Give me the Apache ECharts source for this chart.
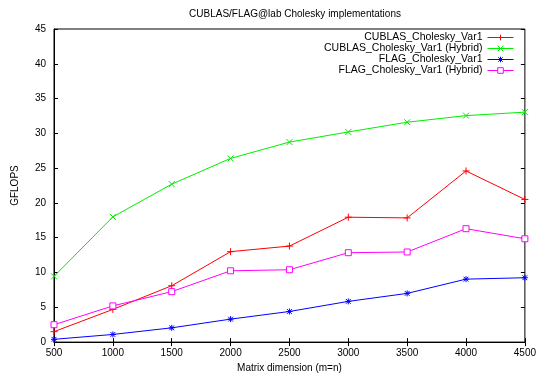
<!DOCTYPE html>
<html><head><meta charset="utf-8">
<script src="https://cdn.jsdelivr.net/npm/echarts@6/dist/echarts.min.js"></script>
<style>html,body{margin:0;padding:0;background:#fff}#c{width:539px;height:378px}</style>
</head><body><div id="c"></div>
<script>
var dims = [500, 1000, 1500, 2000, 2500, 3000, 3500, 4000, 4500];
var cublasVar1 = [1.5, 4.7, 8.1, 13.0, 13.8, 17.95, 17.85, 24.6, 20.5];
var cublasHybrid = [9.45, 18.0, 22.7, 26.4, 28.75, 30.2, 31.6, 32.55, 33.05];
var flagVar1 = [0.4, 1.1, 2.05, 3.3, 4.4, 5.85, 7.0, 9.05, 9.25];
var flagHybrid = [2.5, 5.2, 7.25, 10.25, 10.4, 12.85, 12.95, 16.3, 14.85];
var names = ['CUBLAS_Cholesky_Var1', 'CUBLAS_Cholesky_Var1 (Hybrid)', 'FLAG_Cholesky_Var1', 'FLAG_Cholesky_Var1 (Hybrid)'];
var colors = ['#ff0000', '#00ee00', '#0000ff', '#ff00ff'];

function pairs(v){ return dims.map(function(d,i){ return [d, v[i]]; }); }
var FONT = 'Liberation Sans, Arial, sans-serif';
var plusPath = 'path://M0,5L10,5M5,0L5,10';
var crossPath = 'path://M0,0L10,10M10,0L0,10';
var starPath = 'path://M0,5L10,5M5,0L5,10M1,1L9,9M9,1L1,9';
var symbols = [plusPath, crossPath, starPath, 'rect'];
var sizes = [7, 6, 6, 6];

function mk(i, data){
  var color = colors[i], symbol = symbols[i];
  return {
    name: names[i], type: 'line', data: pairs(data), xAxisIndex: 0, yAxisIndex: 0,
    symbol: symbol, symbolSize: sizes[i], showAllSymbol: true,
    lineStyle: {color: color, width: 1},
    itemStyle: {color: symbol === 'rect' ? '#fff' : 'none', borderColor: color, borderWidth: 1},
    emphasis: {disabled: true}, animation: false
  };
}

var chart = echarts.init(document.getElementById('c'), null, {renderer: 'canvas'});
var tickStyle = {inside: true, length: 4, lineStyle: {color: '#000', width: 1}};
chart.setOption({
  animation: false,
  backgroundColor: '#fff',
  title: {text: 'CUBLAS/FLAG@lab Cholesky implementations', left: 290, top: 4, textAlign: 'center',
    textStyle: {fontFamily: FONT, fontSize: 10, fontWeight: 'normal', color: '#000'}},
  grid: {left: 54, right: 12, top: 29, bottom: 35, show: true, borderColor: '#000', borderWidth: 1, backgroundColor: 'transparent'},
  legend: {
    orient: 'vertical', right: 25, top: 32, align: 'right', padding: 0,
    itemWidth: 26, itemHeight: 7, itemGap: 0,
    lineStyle: {width: 1},
    textStyle: {fontFamily: FONT, fontSize: 10.5, color: '#000', lineHeight: 11},
    data: names.map(function(n, i){
      return {name: n, itemStyle: {color: symbols[i] === 'rect' ? '#fff' : 'none', borderColor: colors[i], borderWidth: 1},
        lineStyle: {color: colors[i], width: 1}};
    })
  },
  xAxis: [{
    type: 'value', min: 500, max: 4500, interval: 500,
    name: 'Matrix dimension (m=n)', nameLocation: 'middle', nameGap: 20,
    nameTextStyle: {fontFamily: FONT, fontSize: 10, color: '#000'},
    axisLine: {onZero: false, lineStyle: {color: '#000', width: 1}},
    axisTick: tickStyle, splitLine: {show: false},
    axisLabel: {fontFamily: FONT, fontSize: 10, color: '#000', margin: 6, formatter: function(v){ return String(v); }}
  }, {
    type: 'value', position: 'top', min: 500, max: 4500, interval: 500,
    axisLine: {show: false}, axisTick: tickStyle, axisLabel: {show: false}, splitLine: {show: false}
  }],
  yAxis: [{
    type: 'value', min: 0, max: 45, interval: 5,
    name: 'GFLOPS', nameLocation: 'middle', nameGap: 34, nameRotate: 90,
    nameTextStyle: {fontFamily: FONT, fontSize: 10, color: '#000'},
    axisLine: {show: true, lineStyle: {color: '#000', width: 1}},
    axisTick: tickStyle, splitLine: {show: false},
    axisLabel: {fontFamily: FONT, fontSize: 10, color: '#000', margin: 8}
  }, {
    type: 'value', position: 'right', min: 0, max: 45, interval: 5,
    axisLine: {show: false}, axisTick: tickStyle, axisLabel: {show: false}, splitLine: {show: false}
  }],
  series: [
    mk(0, cublasVar1),
    mk(1, cublasHybrid),
    mk(2, flagVar1),
    mk(3, flagHybrid)
  ]
});
</script></body></html>
